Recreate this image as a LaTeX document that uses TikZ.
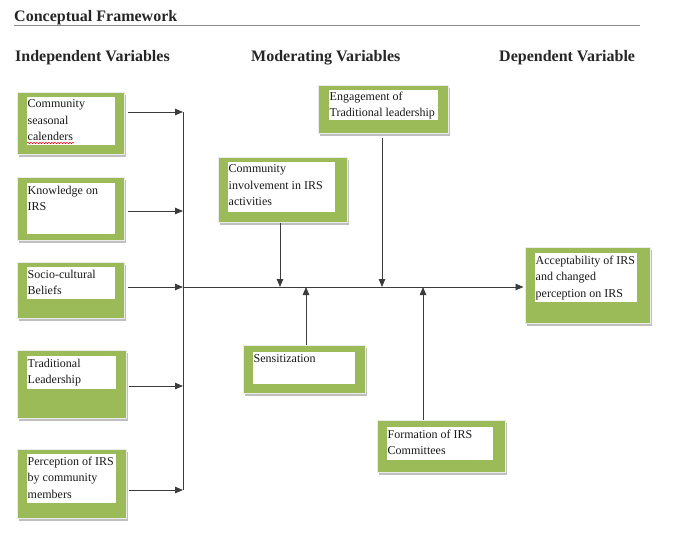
\documentclass[tikz,border=0pt]{standalone}
\usepackage{fontspec}
\setmainfont{Liberation Serif}
\usetikzlibrary{arrows.meta,shadows,decorations.pathmorphing}
\definecolor{ogreen}{HTML}{9BBB59}
\definecolor{lnc}{HTML}{3C3C3C}
\begin{document}
\begin{tikzpicture}[x=1pt,y=-1pt,
  outerbox/.style={rectangle, fill=ogreen, draw=black!8, line width=1pt, inner sep=0pt,
    drop shadow={shadow xshift=2pt, shadow yshift=-3pt, fill=black!25, opacity=1}},
  innerbox/.style={rectangle, fill=white, draw=none, inner sep=0pt, anchor=north west},
  txt/.style={anchor=north west, inner xsep=0.5pt, inner ysep=0pt, align=left,
    text=black!90, font=\fontsize{12}{16.5}\selectfont},
  head/.style={anchor=base west, inner sep=0pt, text=black!85,
    font=\fontsize{16}{18}\selectfont\bfseries},
  conn/.style={draw=lnc, line width=0.8pt},
  arr/.style={conn, -{Triangle[length=8pt,width=6.5pt]}}
]
\useasboundingbox (0,0) rectangle (686,544);

% title and headings
\node[head] (title) at (14,21) {Conceptual Framework};
\coordinate (ul1) at (14,25.5);
\coordinate (ul2) at (640,25.5);
\draw[black!45, line width=1.6pt] (ul1) -- (ul2);
\node[head] (hi) at (15,61) {Independent Variables};
\node[head] (hm) at (251,61) {Moderating Variables};
\node[head] (hd) at (499,61) {Dependent Variable};

% independent variable boxes
\node[outerbox, minimum width=107pt, minimum height=62pt] (B1) at (70.5,123) {};
\node[innerbox, minimum width=88pt, minimum height=48pt] (B1i) at (27,97) {};
\node[txt] (B1t) at ([yshift=-2.5pt]B1i.north west) {Community\\seasonal\\calenders};
\coordinate (sq1) at (27,143);
\coordinate (sq2) at (74,143);
\draw[red!85!black, line width=0.5pt, decorate, decoration={snake, amplitude=0.7pt, segment length=3pt}] (sq1) -- (sq2);

\node[outerbox, minimum width=107pt, minimum height=63pt] (B2) at (70.5,208.5) {};
\node[innerbox, minimum width=88pt, minimum height=51pt] (B2i) at (27,183) {};
\node[txt] (B2t) at ([yshift=-2.5pt]B2i.north west) {Knowledge on\\IRS};

\node[outerbox, minimum width=107pt, minimum height=56pt] (B3) at (70.5,290) {};
\node[innerbox, minimum width=88pt, minimum height=32pt] (B3i) at (27,267) {};
\node[txt] (B3t) at ([yshift=-2.5pt]B3i.north west) {Socio-cultural\\Beliefs};

\node[outerbox, minimum width=109pt, minimum height=68pt] (B4) at (71.5,384) {};
\node[innerbox, minimum width=89pt, minimum height=33pt] (B4i) at (27,356) {};
\node[txt] (B4t) at ([yshift=-2.5pt]B4i.north west) {Traditional\\Leadership};

\node[outerbox, minimum width=109pt, minimum height=69pt] (B5) at (71.5,483.5) {};
\node[innerbox, minimum width=89pt, minimum height=49pt] (B5i) at (27,454) {};
\node[txt] (B5t) at ([yshift=-2.5pt]B5i.north west) {Perception of IRS\\by community\\members};

% moderating variable boxes
\node[outerbox, minimum width=129pt, minimum height=65pt] (M1) at (282.5,189.5) {};
\node[innerbox, minimum width=107pt, minimum height=50pt] (M1i) at (228,162) {};
\node[txt] (M1t) at ([yshift=-2.5pt]M1i.north west) {Community\\involvement in IRS\\activities};

\node[outerbox, minimum width=130pt, minimum height=48pt] (M2) at (383,109) {};
\node[innerbox, minimum width=109pt, minimum height=30pt] (M2i) at (329,90) {};
\node[txt] (M2t) at ([yshift=-1.5pt]M2i.north west) {Engagement of\\Traditional leadership};

\node[outerbox, minimum width=122pt, minimum height=48pt] (M3) at (304,369) {};
\node[innerbox, minimum width=102pt, minimum height=32pt] (M3i) at (253,352) {};
\node[txt] (M3t) at ([yshift=-2.5pt]M3i.north west) {Sensitization};

\node[outerbox, minimum width=128pt, minimum height=52pt] (M4) at (441,446) {};
\node[innerbox, minimum width=106pt, minimum height=33pt] (M4i) at (387,427) {};
\node[txt] (M4t) at ([yshift=-2.5pt]M4i.north west) {Formation of IRS\\Committees};

% dependent variable box
\node[outerbox, minimum width=125pt, minimum height=76pt] (D) at (587.5,285) {};
\node[innerbox, minimum width=102pt, minimum height=49pt] (Di) at (535,253) {};
\node[txt] (Dt) at ([yshift=-2.5pt]Di.north west) {Acceptability of IRS\\and changed\\perception on IRS};

% bus and junctions
\coordinate (j1) at (183,112);
\coordinate (j2) at (183,211);
\coordinate (j3) at (183,287);
\coordinate (j4) at (183,386);
\coordinate (j5) at (183,490);
\draw[conn] (j1) -- (j5);
\draw[arr] ([xshift=3pt]B1.east |- j1) -- (j1);
\draw[arr] ([xshift=3pt]B2.east |- j2) -- (j2);
\draw[arr] ([xshift=3pt]B3.east |- j3) -- (j3);
\draw[arr] ([xshift=2pt]B4.east |- j4) -- (j4);
\draw[arr] ([xshift=2pt]B5.east |- j5) -- (j5);

% main line to dependent variable
\draw[arr] (j3) -- ([xshift=-1pt]D.west |- j3);

% moderating arrows
\coordinate (m1) at (280,287);
\coordinate (m2) at (382,287);
\coordinate (m3) at (306,287);
\coordinate (m4) at (423,287);
\draw[arr] (m1 |- M1.south) -- (m1);
\draw[arr] ([yshift=-4pt]m2 |- M2.south) -- (m2);
\draw[arr] (m3 |- M3.north) -- (m3);
\draw[arr] (m4 |- M4.north) -- (m4);
\end{tikzpicture}
\end{document}
